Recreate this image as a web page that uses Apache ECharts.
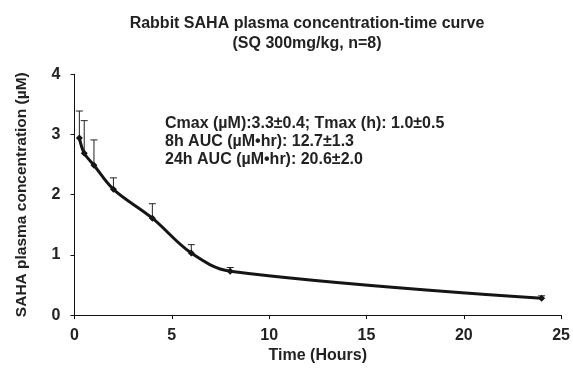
<!DOCTYPE html>
<html>
<head>
<meta charset="utf-8">
<script src="https://cdn.jsdelivr.net/npm/echarts@6/dist/echarts.min.js"></script>
<style>
html,body{margin:0;padding:0;background:#fff;}
#chart{width:573px;height:369px;}
</style>
</head>
<body>
<div id="chart"></div>
<script>
// Data
var timeHours = [0.25, 0.5, 1, 2, 4, 6, 8, 24];
var meanConc = [2.94, 2.69, 2.49, 2.09, 1.61, 1.03, 0.73, 0.28];
var sdConc = [0.45, 0.54, 0.42, 0.19, 0.24, 0.14, 0.06, 0.04];
var xTicks = [0, 5, 10, 15, 20, 25];
var yTicks = [0, 1, 2, 3, 4];
var titleLines = ['Rabbit SAHA plasma concentration-time curve', '(SQ 300mg/kg, n=8)'];
var noteLines = [
  'Cmax (\u00b5M):3.3\u00b10.4; Tmax (h): 1.0\u00b10.5',
  '8h AUC (\u00b5M\u2022hr): 12.7\u00b11.3',
  '24h AUC (\u00b5M\u2022hr): 20.6\u00b12.0'
];

var FONT = '"Liberation Sans", Arial, sans-serif';
var TXT = '#222';

var lineData = timeHours.map(function (t, i) { return [t, meanConc[i]]; });
var errData = timeHours.map(function (t, i) { return [t, meanConc[i], meanConc[i] + sdConc[i]]; });

var chart = echarts.init(document.getElementById('chart'), null, {renderer: 'canvas'});
chart.setOption({
  backgroundColor: '#fff',
  animation: false,
  title: {
    text: titleLines.join('\n'),
    left: 302, top: 9, textAlign: 'center',
    textStyle: {fontFamily: FONT, fontWeight: 'bold', fontSize: 16, color: TXT, lineHeight: 20}
  },
  grid: {left: 74.5, right: 10.7, top: 74.3, bottom: 46.7, containLabel: false},
  xAxis: {
    type: 'value', min: xTicks[0], max: xTicks[xTicks.length - 1], interval: 5,
    name: 'Time (Hours)', nameLocation: 'middle', nameGap: 31,
    nameTextStyle: {fontFamily: FONT, fontWeight: 'bold', fontSize: 16, color: TXT},
    axisLine: {lineStyle: {color: '#111', width: 1}},
    axisTick: {show: true, inside: false, length: 4, lineStyle: {color: '#111'}},
    axisLabel: {margin: 12, fontFamily: FONT, fontWeight: 'bold', fontSize: 16, color: TXT},
    splitLine: {show: false}
  },
  yAxis: {
    type: 'value', min: yTicks[0], max: yTicks[yTicks.length - 1], interval: 1,
    name: 'SAHA plasma concentration (\u00b5M)', nameLocation: 'middle', nameGap: 45, nameRotate: 90,
    nameTextStyle: {fontFamily: FONT, fontWeight: 'bold', fontSize: 15.5, color: TXT},
    axisLine: {show: true, lineStyle: {color: '#111', width: 1}},
    axisTick: {show: true, inside: false, length: 4, lineStyle: {color: '#111'}},
    axisLabel: {margin: 14, fontFamily: FONT, fontWeight: 'bold', fontSize: 16, color: TXT},
    splitLine: {show: false}
  },
  graphic: [{
    type: 'text', left: 165, top: 115,
    style: {text: noteLines.join('\n'), font: 'bold 16px ' + FONT, fill: TXT, lineHeight: 18}
  }],
  series: [{
    type: 'custom',
    data: errData,
    z: 3,
    renderItem: function (params, api) {
      var x = api.value(0);
      var lo = api.coord([x, api.value(1)]);
      var hi = api.coord([x, api.value(2)]);
      var w = 3.5;
      return {
        type: 'group',
        children: [
          {type: 'line', shape: {x1: lo[0], y1: lo[1], x2: hi[0], y2: hi[1]}, style: {stroke: '#222', lineWidth: 1}},
          {type: 'line', shape: {x1: hi[0] - w, y1: hi[1], x2: hi[0] + w, y2: hi[1]}, style: {stroke: '#222', lineWidth: 1}}
        ]
      };
    }
  }, {
    type: 'line',
    data: lineData,
    smooth: 0.35,
    symbol: 'diamond',
    symbolSize: 7,
    z: 4,
    lineStyle: {color: '#151515', width: 3},
    itemStyle: {color: '#151515'}
  }]
});
</script>
</body>
</html>
